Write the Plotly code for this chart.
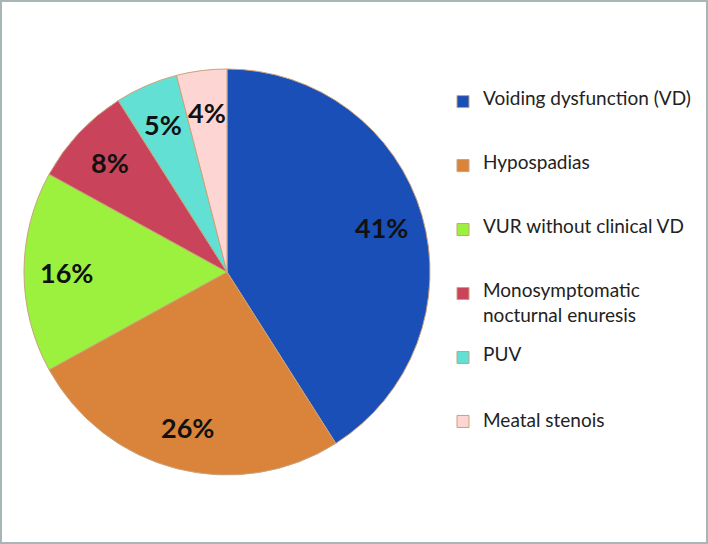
import math
import plotly.graph_objects as go

# slice data, clockwise from 12 o'clock
labels = [
    "Voiding dysfunction (VD)",
    "Hypospadias",
    "VUR without clinical VD",
    "Monosymptomatic<br>nocturnal enuresis",
    "PUV",
    "Meatal stenois",
]
values = [41, 26, 16, 8, 5, 4]
colors = ["#1a4fb8", "#d9843a", "#9cf03e", "#c9435a", "#62e0d4", "#fdd6d3"]

# legend uses a tiny base font so blank lines act as fine-grained spacers;
# every entry spans 5 base lines, text itself drawn at 19px
legend_names = []
for i, l in enumerate(labels):
    parts = ['<span style="font-size:19px">%s</span>' % s for s in l.split("<br>")]
    txt = "<br>&nbsp;<br>".join(parts)
    used = 2 * len(parts) - 1
    if i < len(labels) - 1:
        txt += "<br>&nbsp;" * (5 - used)
    legend_names.append(txt)

W, H = 708, 544
dom_x = [24 / W, 430 / W]
dom_y = [69 / H, 475 / H]

fig = go.Figure(go.Pie(
    labels=legend_names,
    values=values,
    sort=False,
    direction="clockwise",
    rotation=0,
    marker=dict(colors=colors, line=dict(color="#c9a27a", width=1)),
    textinfo="none",
    hoverinfo="skip",
    domain=dict(x=dom_x, y=dom_y),
))

# percentage labels, placed at ~0.79 of the radius along each slice's middle angle
cx = (dom_x[0] + dom_x[1]) / 2
cy = (dom_y[0] + dom_y[1]) / 2
rx = (dom_x[1] - dom_x[0]) / 2
ry = (dom_y[1] - dom_y[0]) / 2
total = sum(values)
annotations = []
cum = 0
for v in values:
    mid = (cum + v / 2) / total * 2 * math.pi
    cum += v
    annotations.append(dict(
        x=cx + 0.79 * rx * math.sin(mid), y=cy + 0.79 * ry * math.cos(mid),
        xref="paper", yref="paper", showarrow=False,
        xanchor="center", yanchor="middle",
        text="%d%%" % round(100 * v / total),
        font=dict(family="Lato", size=27, color="#111111", weight="bold"),
    ))

fig.update_layout(
    width=W, height=H,
    margin=dict(l=0, r=0, t=0, b=0),
    paper_bgcolor="white",
    font=dict(family="Lato", color="#222222"),
    legend=dict(
        x=443 / W, y=1 - 89 / H, xanchor="left", yanchor="top",
        valign="top",
        font=dict(size=9.38, color="#222222"),
        itemwidth=30,
    ),
    annotations=annotations,
    shapes=[dict(type="rect", xref="paper", yref="paper", x0=0, y0=0, x1=1, y1=1,
                 line=dict(color="#a7b6b6", width=4))],
)

fig.write_html("out.html", config={"displayModeBar": False},
               post_script="document.body.style.margin='0';")
